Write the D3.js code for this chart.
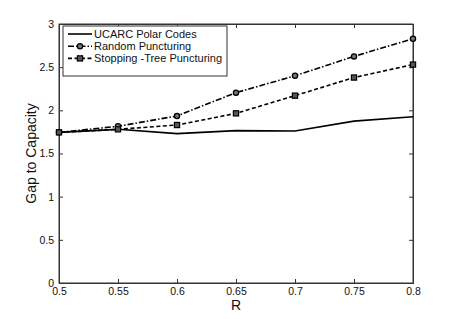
<!DOCTYPE html>
<html>
<head>
<meta charset="utf-8">
<script src="https://cdn.jsdelivr.net/npm/d3@7"></script>
<style>
  body { margin: 0; background: #fff; }
  svg text { font-family: "Liberation Sans", Arial, sans-serif; fill: #111; }
</style>
</head>
<body>
<svg id="chart" width="457" height="319"></svg>
<script>
const rates = [0.5, 0.55, 0.6, 0.65, 0.7, 0.75, 0.8]
const ucarc = [1.745, 1.78, 1.73, 1.765, 1.76, 1.875, 1.925]
const randomPunct = [1.745, 1.815, 1.935, 2.205, 2.40, 2.625, 2.83]
const stoppingPunct = [1.745, 1.78, 1.83, 1.965, 2.17, 2.38, 2.53]
const xTicks = [0.5, 0.55, 0.6, 0.65, 0.7, 0.75, 0.8]
const yTicks = [0, 0.5, 1, 1.5, 2, 2.5, 3]

const series = [
  { name: 'UCARC Polar Codes', values: ucarc, dash: null, marker: null },
  { name: 'Random Puncturing', values: randomPunct, dash: '6,2,1.5,2', marker: 'circle' },
  { name: 'Stopping -Tree Puncturing', values: stoppingPunct, dash: '4,2.5', marker: 'square' }
]

const margin = { left: 59, right: 44, top: 24, bottom: 36 }
const width = 457 - margin.left - margin.right
const height = 319 - margin.top - margin.bottom

const svg = d3.select('#chart')
const g = svg.append('g').attr('transform', `translate(${margin.left},${margin.top})`)

const x = d3.scaleLinear().domain([0.5, 0.8]).range([0, width])
const y = d3.scaleLinear().domain([0, 3]).range([height, 0])

// frame
g.append('rect')
  .attr('width', width).attr('height', height)
  .attr('fill', 'none').attr('stroke', '#333').attr('stroke-width', 1)

const fmt = d => String(d)

g.append('g').attr('transform', `translate(0,${height})`)
  .call(d3.axisBottom(x).tickValues(xTicks).tickSize(-4).tickPadding(5).tickFormat(fmt))
g.append('g')
  .call(d3.axisTop(x).tickValues(xTicks).tickSize(-4).tickFormat(''))
g.append('g')
  .call(d3.axisLeft(y).tickValues(yTicks).tickSize(-4).tickPadding(5).tickFormat(fmt))
g.append('g').attr('transform', `translate(${width},0)`)
  .call(d3.axisRight(y).tickValues(yTicks).tickSize(-4).tickFormat(''))

g.selectAll('.domain').attr('stroke', '#333')
g.selectAll('.tick line').attr('stroke', '#333')
g.selectAll('.tick text').style('font-size', '10.5px').attr('fill', '#111')

const line = d3.line().x((d, i) => x(rates[i])).y(d => y(d))

series.forEach(s => {
  g.append('path')
    .attr('d', line(s.values))
    .attr('fill', 'none')
    .attr('stroke', '#000')
    .attr('stroke-width', 1.6)
    .attr('stroke-dasharray', s.dash)
  drawMarkers(g, s.marker, s.values.map((v, i) => [x(rates[i]), y(v)]))
})

function drawMarkers (parent, type, pts) {
  if (!type) return
  if (type === 'circle') {
    parent.selectAll(null).data(pts).join('circle')
      .attr('cx', d => d[0]).attr('cy', d => d[1]).attr('r', 2.6)
      .attr('fill', '#777').attr('stroke', '#000').attr('stroke-width', 1.3)
  } else {
    parent.selectAll(null).data(pts).join('rect')
      .attr('x', d => d[0] - 2.6).attr('y', d => d[1] - 2.6)
      .attr('width', 5.2).attr('height', 5.2)
      .attr('fill', '#555').attr('stroke', '#000').attr('stroke-width', 1.2)
  }
}

// axis labels
svg.append('text')
  .attr('x', margin.left + width / 2).attr('y', 310)
  .attr('text-anchor', 'middle').style('font-size', '14px').text('R')
svg.append('text')
  .attr('transform', `translate(36,${margin.top + height / 2}) rotate(-90)`)
  .attr('text-anchor', 'middle').style('font-size', '14px').text('Gap to Capacity')

// legend
const legend = svg.append('g').attr('transform', 'translate(63,26)')
legend.append('rect')
  .attr('width', 164).attr('height', 50)
  .attr('fill', '#fff').attr('stroke', '#333').attr('stroke-width', 1)
series.forEach((s, i) => {
  const ly = 8 + i * 12.2
  legend.append('line')
    .attr('x1', 5).attr('x2', 29).attr('y1', ly).attr('y2', ly)
    .attr('stroke', '#000').attr('stroke-width', 1.6)
    .attr('stroke-dasharray', s.dash)
  drawMarkers(legend, s.marker, [[17, ly]])
  legend.append('text')
    .attr('x', 31).attr('y', ly + 4)
    .style('font-size', '11px').text(s.name)
})
</script>
</body>
</html>
